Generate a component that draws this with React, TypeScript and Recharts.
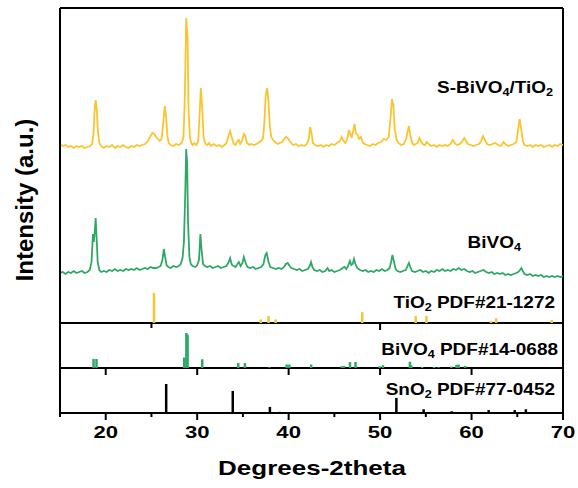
import React from 'react';
import { ComposedChart, Line, XAxis, YAxis, ReferenceLine } from 'recharts';

// ---------- data ----------
const X_TICKS = [15, 20, 25, 30, 35, 40, 45, 50, 55, 60, 65, 70];

// S-BiVO4/TiO2 scan: [2theta, intensity above its own baseline]
const S_BIVO4_TIO2: [number, number][] = [
  [15.0, 3], [15.3, 1], [15.6, 2], [15.9, 0], [16.2, 1], [16.5, -1], [16.8, 1], [17.1, 0], [17.4, 1], [17.7, -1],
  [18.0, 0], [18.3, 1], [18.5, 3], [18.65, 12], [18.8, 38], [18.9, 47], [19.0, 40], [19.15, 15], [19.3, 4], [19.5, 1],
  [19.8, -1], [20.1, 1], [20.4, 0], [20.7, 2], [21.0, -1], [21.3, 1], [21.6, 0], [21.9, 2], [22.2, 0], [22.5, -1],
  [22.8, 1], [23.1, 0], [23.4, 2], [23.7, 1], [24.0, 2], [24.3, 3], [24.6, 6], [24.9, 11], [25.1, 14], [25.3, 13],
  [25.5, 10], [25.7, 8], [25.9, 6], [26.1, 8], [26.3, 25], [26.45, 41], [26.6, 30], [26.75, 10], [26.9, 4], [27.1, 2],
  [27.4, 1], [27.7, 3], [28.0, 2], [28.3, 4], [28.5, 10], [28.65, 50], [28.8, 129], [28.95, 110], [29.05, 40], [29.2, 10],
  [29.35, 4], [29.5, 2], [29.7, 4], [29.9, 2], [30.1, 5], [30.25, 30], [30.4, 59], [30.55, 40], [30.7, 10], [30.9, 3],
  [31.1, 2], [31.3, 4], [31.5, 1], [31.8, 3], [32.1, 1], [32.4, 2], [32.7, 0], [33.0, 2], [33.2, 4], [33.45, 12],
  [33.6, 16], [33.8, 9], [34.0, 3], [34.2, 2], [34.4, 6], [34.55, 7], [34.7, 3], [34.9, 6], [35.1, 13], [35.25, 11],
  [35.45, 4], [35.7, 2], [35.9, 3], [36.2, 2], [36.5, 3], [36.8, 5], [37.0, 6], [37.2, 9], [37.35, 25], [37.5, 52],
  [37.65, 59], [37.8, 45], [37.95, 20], [38.1, 10], [38.3, 7], [38.5, 5], [38.8, 3], [39.0, 4], [39.3, 5], [39.5, 8],
  [39.7, 10], [39.9, 9], [40.1, 6], [40.3, 4], [40.5, 2], [40.8, 3], [41.1, 1], [41.4, 2], [41.7, 1], [42.0, 3],
  [42.2, 8], [42.35, 20], [42.5, 14], [42.65, 4], [42.9, 2], [43.2, 1], [43.5, 2], [43.8, 0], [44.1, 2], [44.4, 1],
  [44.7, 3], [45.0, 2], [45.3, 4], [45.6, 6], [45.8, 10], [46.0, 6], [46.2, 4], [46.4, 8], [46.6, 17], [46.75, 12],
  [46.9, 10], [47.05, 16], [47.2, 23], [47.35, 14], [47.55, 12], [47.7, 8], [47.9, 10], [48.1, 5], [48.3, 3], [48.6, 2],
  [48.9, 1], [49.2, 3], [49.5, 2], [49.8, 4], [50.1, 5], [50.4, 8], [50.7, 7], [50.95, 10], [51.15, 30], [51.3, 48],
  [51.45, 42], [51.6, 18], [51.8, 7], [52.0, 4], [52.3, 2], [52.6, 3], [52.85, 8], [53.0, 15], [53.15, 21], [53.3, 12],
  [53.5, 4], [53.7, 2], [53.9, 3], [54.1, 4], [54.3, 9], [54.45, 6], [54.65, 3], [54.9, 2], [55.1, 5], [55.3, 3],
  [55.6, 1], [55.9, 2], [56.2, 0], [56.5, 2], [56.8, 1], [57.1, 2], [57.4, 1], [57.7, 3], [57.95, 7], [58.15, 4],
  [58.4, 2], [58.7, 3], [58.95, 5], [59.2, 9], [59.4, 6], [59.6, 3], [59.9, 2], [60.2, 1], [60.5, 2], [60.8, 3],
  [61.05, 6], [61.25, 11], [61.45, 7], [61.7, 3], [62.0, 2], [62.3, 3], [62.6, 4], [62.9, 2], [63.2, 1], [63.5, 5],
  [63.7, 3], [64.0, 1], [64.3, 2], [64.6, 3], [64.9, 5], [65.1, 18], [65.25, 28], [65.4, 20], [65.6, 6], [65.8, 2],
  [66.1, 1], [66.4, 2], [66.7, 0], [67.0, 2], [67.3, 1], [67.6, 2], [67.9, 0], [68.2, 1], [68.5, 2], [68.8, 0],
  [69.1, 2], [69.4, 1], [69.7, 3], [70.0, 2],
];

// BiVO4 scan
const BIVO4: [number, number][] = [
  [15.0, -1], [15.3, 0], [15.6, -2], [15.9, 0], [16.2, -1], [16.5, 1], [16.8, -1], [17.1, 0], [17.4, 1], [17.7, -1],
  [18.0, 0], [18.25, 2], [18.45, 10], [18.6, 38], [18.7, 30], [18.8, 40], [18.9, 54], [19.0, 35], [19.12, 10], [19.3, 2],
  [19.5, 0], [19.8, 1], [20.1, 0], [20.4, 2], [20.7, 1], [21.0, 3], [21.3, 1], [21.6, 2], [21.9, 1], [22.2, 3],
  [22.5, 2], [22.8, 3], [23.1, 2], [23.4, 4], [23.7, 2], [24.0, 3], [24.3, 4], [24.6, 3], [24.9, 5], [25.2, 4],
  [25.5, 4], [25.8, 5], [26.0, 6], [26.2, 12], [26.35, 23], [26.5, 15], [26.65, 7], [26.85, 5], [27.1, 4], [27.4, 6],
  [27.7, 5], [28.0, 6], [28.2, 8], [28.4, 14], [28.55, 30], [28.7, 80], [28.8, 123], [28.9, 110], [29.0, 50], [29.15, 15],
  [29.3, 8], [29.5, 6], [29.8, 5], [30.0, 7], [30.2, 12], [30.35, 38], [30.5, 20], [30.65, 8], [30.85, 6], [31.1, 5],
  [31.4, 6], [31.7, 4], [32.0, 5], [32.3, 6], [32.6, 4], [32.9, 5], [33.2, 6], [33.45, 10], [33.6, 14], [33.8, 7],
  [34.0, 6], [34.2, 5], [34.4, 8], [34.55, 10], [34.75, 6], [34.95, 9], [35.1, 15], [35.3, 9], [35.5, 5], [35.8, 4],
  [36.1, 5], [36.4, 3], [36.7, 4], [37.0, 5], [37.25, 8], [37.45, 17], [37.6, 19], [37.8, 10], [38.0, 5], [38.3, 4],
  [38.6, 3], [38.9, 4], [39.2, 3], [39.5, 5], [39.7, 8], [39.9, 9], [40.1, 6], [40.3, 4], [40.6, 3], [40.9, 2],
  [41.2, 3], [41.5, 1], [41.8, 2], [42.1, 3], [42.3, 6], [42.45, 10], [42.6, 5], [42.8, 2], [43.1, 1], [43.4, 2],
  [43.7, 0], [44.0, 1], [44.25, 4], [44.45, 1], [44.7, 2], [45.0, 0], [45.3, 1], [45.6, 2], [45.9, 4], [46.1, 5],
  [46.3, 3], [46.5, 6], [46.7, 11], [46.85, 7], [47.0, 8], [47.15, 13], [47.3, 8], [47.5, 4], [47.8, 2], [48.1, 1],
  [48.4, 2], [48.7, 0], [49.0, 1], [49.3, 0], [49.6, 2], [49.9, 1], [50.2, 3], [50.5, 1], [50.8, 2], [51.05, 4],
  [51.2, 10], [51.35, 17], [51.5, 11], [51.7, 3], [51.9, 1], [52.2, 0], [52.5, 1], [52.8, 2], [53.0, 6], [53.15, 9],
  [53.3, 5], [53.5, 1], [53.8, 0], [54.1, 1], [54.4, 2], [54.7, 0], [55.0, 1], [55.3, -1], [55.6, 1], [55.9, 0],
  [56.2, 2], [56.5, 1], [56.8, 3], [57.1, 1], [57.4, 2], [57.7, 1], [58.0, 3], [58.3, 2], [58.6, 4], [58.9, 2],
  [59.2, 3], [59.5, 1], [59.8, 0], [60.1, 1], [60.4, -1], [60.7, 0], [61.0, 1], [61.3, 2], [61.6, 0], [61.9, -1],
  [62.2, 0], [62.5, -2], [62.8, -1], [63.1, -2], [63.4, -1], [63.7, -3], [64.0, -2], [64.3, -3], [64.6, -2], [64.9, -1],
  [65.1, 0], [65.3, 2], [65.45, 4], [65.6, 1], [65.8, -2], [66.1, -3], [66.4, -2], [66.7, -4], [67.0, -3], [67.3, -4],
  [67.6, -3], [67.9, -5], [68.2, -4], [68.5, -5], [68.8, -4], [69.1, -5], [69.4, -4], [69.7, -5], [70.0, -4],
];

// reference patterns: [2theta, relative intensity %]
const TIO2_PDF: [number, number][] = [
  [25.28, 100], [36.95, 12], [37.8, 23], [38.58, 12], [48.05, 36], [53.89, 23], [55.06, 23], [62.12, 6], [62.69, 16], [68.76, 10],
];
const BIVO4_PDF: [number, number][] = [
  [18.67, 26], [18.99, 26], [28.58, 30], [28.82, 100], [28.95, 95], [30.55, 25], [34.49, 14], [35.22, 14], [37.9, 2],
  [39.78, 10], [40.08, 10], [42.46, 10], [45.8, 5], [46.03, 6], [46.71, 17], [47.31, 17], [49.95, 5], [50.31, 8],
  [53.26, 18], [53.4, 8], [54.6, 3], [55.9, 3], [56.4, 2], [57.8, 4], [58.35, 9], [58.58, 10], [59.3, 6],
];
const SNO2_PDF: [number, number][] = [
  [26.61, 100], [33.89, 76], [37.95, 21], [38.97, 4], [42.64, 2], [51.78, 52], [54.76, 13], [57.82, 6], [61.87, 10], [64.72, 10], [65.94, 13],
];

// ---------- layout constants (chart units) ----------
const Y_MAX = 405;
const BASE_SNO2 = 0;
const BASE_BIVO4_PDF = 45;
const BASE_TIO2_PDF = 90;
const BASE_BIVO4 = 141;
const BASE_S = 266;
const SCALE_TIO2 = 0.30;
const SCALE_BIVO4_PDF = 0.35;
const SCALE_SNO2 = 0.29;

const YELLOW = '#F9C52F';
const GREEN = '#2FA866';
const FONT = '"Liberation Sans", Arial, Helvetica, sans-serif';

const yellowData = S_BIVO4_TIO2.map(([x, h]) => ({ x, y: BASE_S + h }));
const greenData = BIVO4.map(([x, h]) => ({ x, y: BASE_BIVO4 + h }));

const XTick = (props: any) => {
  const { x, y, payload } = props;
  const v = payload.value as number;
  const major = v % 10 === 0;
  return (
    <g>
      <line x1={x} x2={x} y1={y} y2={y + (major ? 7 : 4)} stroke="#000" strokeWidth={2} />
      {major && (
        <text
          transform={`translate(${x},${y + 25}) scale(1.3,1)`}
          textAnchor="middle"
          fontSize={17}
          fontWeight="bold"
          fontFamily={FONT}
          fill="#000"
        >
          {v}
        </text>
      )}
    </g>
  );
};

const sticks = (list: [number, number][], base: number, scale: number, color: string, prefix: string) =>
  list.map(([x, i]) => (
    <ReferenceLine
      key={`${prefix}-${x}`}
      segment={[{ x, y: base }, { x, y: base + i * scale }]}
      stroke={color}
      strokeWidth={2.5}
    />
  ));

const sepTicks = (xs: number[], base: number, len: number, prefix: string) =>
  xs.map((x) => (
    <ReferenceLine
      key={`${prefix}-${x}`}
      segment={[{ x, y: base }, { x, y: base - len }]}
      stroke="#000"
      strokeWidth={2}
    />
  ));

export default function App() {
  const textStyle = { fontFamily: FONT, fontWeight: 'bold' as const, fill: '#000' };
  return (
    <div style={{ position: 'absolute', left: 0, top: 0, width: 578, height: 488, background: '#fff' }}>
      <ComposedChart width={578} height={488} margin={{ top: 8, right: 15, left: 0, bottom: 25 }}>
        <XAxis
          dataKey="x"
          type="number"
          domain={[15, 70]}
          ticks={X_TICKS}
          interval={0}
          allowDataOverflow
          tickSize={0}
          tickMargin={0}
          tickLine={false}
          tick={<XTick />}
          height={50}
          axisLine={{ stroke: '#000', strokeWidth: 2 }}
        />
        <YAxis
          type="number"
          domain={[0, Y_MAX]}
          allowDataOverflow
          width={60}
          tick={false}
          tickLine={false}
          axisLine={{ stroke: '#000', strokeWidth: 2 }}
        />
        <ReferenceLine x={70} stroke="#000" strokeWidth={2} />
        <ReferenceLine y={Y_MAX} stroke="#000" strokeWidth={2} />
        <ReferenceLine y={BASE_TIO2_PDF} stroke="#000" strokeWidth={2} />
        <ReferenceLine y={BASE_BIVO4_PDF} stroke="#000" strokeWidth={2} />
        {sepTicks([25], BASE_TIO2_PDF, 5, 't1')}
        {sepTicks([50], BASE_TIO2_PDF, 7, 't2')}
        {sepTicks([20, 30, 40, 50, 60], BASE_BIVO4_PDF, 7, 't3')}
        {sticks(TIO2_PDF, BASE_TIO2_PDF, SCALE_TIO2, YELLOW, 'ti')}
        {sticks(BIVO4_PDF, BASE_BIVO4_PDF, SCALE_BIVO4_PDF, GREEN, 'bi')}
        {sticks(SNO2_PDF, BASE_SNO2, SCALE_SNO2, '#000', 'sn')}
        <Line data={greenData} dataKey="y" type="linear" dot={false} stroke={GREEN} strokeWidth={1.8} isAnimationActive={false} />
        <Line data={yellowData} dataKey="y" type="linear" dot={false} stroke={YELLOW} strokeWidth={1.8} isAnimationActive={false} />
      </ComposedChart>
      <svg width={578} height={488} style={{ position: 'absolute', left: 0, top: 0, pointerEvents: 'none' }}>
        <text transform="translate(33,200) rotate(-90)" textAnchor="middle" fontSize={24} {...textStyle}>
          Intensity (a.u.)
        </text>
        <text transform="translate(312,475) scale(1.3,1)" textAnchor="middle" fontSize={20} {...textStyle}>
          Degrees-2theta
        </text>
        <text transform="translate(553,93) scale(1.15,1)" textAnchor="end" fontSize={16.5} {...textStyle}>
          S-BiVO<tspan fontSize={11} dy={3}>4</tspan>
          <tspan dy={-3}>/TiO</tspan>
          <tspan fontSize={11} dy={3}>2</tspan>
        </text>
        <text transform="translate(521,248) scale(1.15,1)" textAnchor="end" fontSize={16.5} {...textStyle}>
          BiVO<tspan fontSize={11} dy={3}>4</tspan>
        </text>
        <text transform="translate(555,308) scale(1.15,1)" textAnchor="end" fontSize={16.5} {...textStyle}>
          TiO<tspan fontSize={11} dy={3}>2</tspan>
          <tspan dy={-3}> PDF#21-1272</tspan>
        </text>
        <text transform="translate(558,355) scale(1.15,1)" textAnchor="end" fontSize={16.5} {...textStyle}>
          BiVO<tspan fontSize={11} dy={3}>4</tspan>
          <tspan dy={-3}> PDF#14-0688</tspan>
        </text>
        <text transform="translate(555,395) scale(1.15,1)" textAnchor="end" fontSize={16.5} {...textStyle}>
          SnO<tspan fontSize={11} dy={3}>2</tspan>
          <tspan dy={-3}> PDF#77-0452</tspan>
        </text>
      </svg>
    </div>
  );
}
